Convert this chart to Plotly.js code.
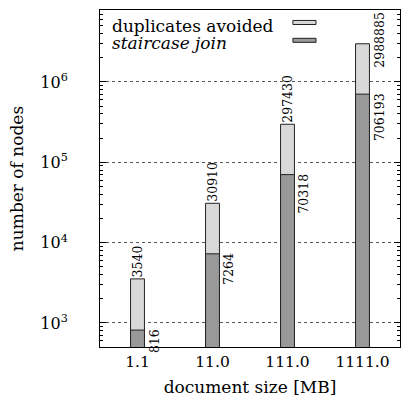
<!DOCTYPE html>
<html>
<head>
<meta charset="utf-8">
<script src="https://cdn.plot.ly/plotly-3.0.1.min.js"></script>
<style>
  html, body { margin: 0; padding: 0; background: #fff; }
  #chart { width: 401px; height: 404px; }
</style>
</head>
<body>
<div id="chart"></div>
<script>
// Document sizes (MB) and node counts per evaluation strategy
const sizes = ['1.1', '11.0', '111.0', '1111.0'];
const duplicatesAvoided = [3540, 30910, 297430, 2988885];
const staircaseJoin = [816, 7264, 70318, 706193];
const yTickVals = [1e3, 1e4, 1e5, 1e6];
const yTickText = ['10<sup>3</sup>', '10<sup>4</sup>', '10<sup>5</sup>', '10<sup>6</sup>'];

const serif = 'DejaVu Serif';
const xs = sizes.map((_, i) => i);

// minor log ticks (2..9 within each decade)
const minorVals = [];
for (let e = 2; e <= 6; e++) {
  for (let m = 2; m <= 9; m++) minorVals.push(m * Math.pow(10, e));
}

const traces = [
  {
    type: 'bar', x: xs, y: duplicatesAvoided, width: 0.185,
    name: 'duplicates avoided',
    marker: { color: '#d9d9d9', line: { color: '#222', width: 1 } },
    hoverinfo: 'y', showlegend: false
  },
  {
    type: 'bar', x: xs, y: staircaseJoin, width: 0.185,
    name: 'staircase join',
    marker: { color: '#999999', line: { color: '#222', width: 1 } },
    hoverinfo: 'y', showlegend: false
  }
];

const labelFont = { family: serif, size: 12.5, color: '#000' };
const annotations = [];

// value labels for the "duplicates avoided" bars: above the bar,
// except the tallest one which sits beside it
duplicatesAvoided.forEach((v, i) => {
  const last = i === duplicatesAvoided.length - 1;
  annotations.push({
    x: i, y: Math.log10(v), xref: 'x', yref: 'y',
    text: String(v), showarrow: false, textangle: -90,
    xanchor: last ? 'left' : 'center',
    yanchor: last ? 'middle' : 'bottom',
    xshift: last ? 9 : 0, yshift: last ? 4 : 0,
    font: labelFont, borderpad: 0
  });
});

// value labels for the "staircase join" bars: right of the bar, hanging from its top
staircaseJoin.forEach((v, i) => {
  annotations.push({
    x: i, y: Math.log10(v), xref: 'x', yref: 'y',
    text: String(v), showarrow: false, textangle: -90,
    xanchor: 'left', yanchor: 'top', xshift: 8, yshift: 2,
    font: labelFont, borderpad: 0
  });
});

// legend: text on the left, swatch on the right
const legendFont = { family: serif, size: 17, color: '#000' };
annotations.push(
  { xref: 'paper', yref: 'paper', x: 0.035, y: 0.953, xanchor: 'left', yanchor: 'middle',
    text: 'duplicates avoided', showarrow: false, font: legendFont, borderpad: 0 },
  { xref: 'paper', yref: 'paper', x: 0.035, y: 0.903, xanchor: 'left', yanchor: 'middle',
    text: '<i>staircase join</i>', showarrow: false, font: legendFont, borderpad: 0 }
);
const shapes = [
  { type: 'rect', xref: 'paper', yref: 'paper', x0: 0.643, x1: 0.72, y0: 0.957, y1: 0.969,
    fillcolor: '#d9d9d9', line: { color: '#222', width: 1 } },
  { type: 'rect', xref: 'paper', yref: 'paper', x0: 0.643, x1: 0.72, y0: 0.904, y1: 0.916,
    fillcolor: '#999999', line: { color: '#222', width: 1 } }
];

const layout = {
  width: 401, height: 404,
  margin: { l: 100, r: 1, t: 10, b: 57 },
  paper_bgcolor: '#fff', plot_bgcolor: '#fff',
  barmode: 'overlay',
  font: { family: serif, color: '#000' },
  xaxis: {
    range: [-0.5, 3.5], tickmode: 'array', tickvals: xs, ticktext: sizes,
    ticks: '', showgrid: false, zeroline: false,
    showline: true, linecolor: '#000', linewidth: 1, mirror: true,
    tickfont: { family: serif, size: 15.5 }, ticklabelstandoff: 0,
    title: { text: 'document size [MB]', font: { family: serif, size: 17 }, standoff: 11 }
  },
  yaxis: {
    type: 'log', range: [2.701, 6.896],
    tickmode: 'array', tickvals: yTickVals, ticktext: yTickText,
    ticks: 'inside', ticklen: 6, tickcolor: '#000',
    minor: { tickmode: 'array', tickvals: minorVals, ticks: 'inside', ticklen: 3,
             tickcolor: '#000', showgrid: false },
    showgrid: true, gridcolor: '#555', griddash: 'dot', gridwidth: 1,
    zeroline: false, showline: true, linecolor: '#000', linewidth: 1, mirror: 'ticks',
    tickfont: { family: serif, size: 16 }, ticklabelstandoff: 28,
    title: { text: 'number of nodes', font: { family: serif, size: 17 }, standoff: 12 }
  },
  annotations: annotations,
  shapes: shapes
};

Plotly.newPlot('chart', traces, layout, { displayModeBar: false, staticPlot: true });
</script>
</body>
</html>
